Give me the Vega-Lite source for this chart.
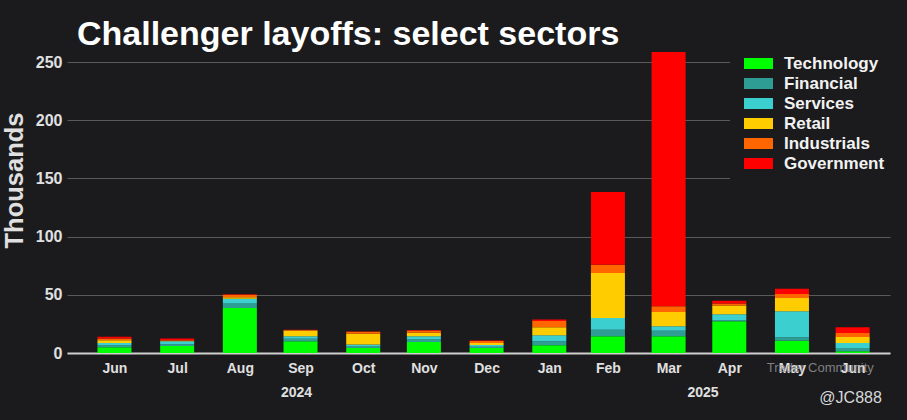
{
  "$schema": "https://vega.github.io/schema/vega-lite/v6.json",
  "autosize": {"type": "none"},
  "width": 823,
  "height": 346,
  "padding": {"left": 67, "top": 7, "right": 17, "bottom": 67},
  "background": "#1b1b1d",
  "title": {
    "text": "Challenger layoffs: select sectors",
    "anchor": "start",
    "frame": "group",
    "baseline": "alphabetic",
    "offset": -72,
    "dx": 10,
    "font": "Liberation Sans",
    "fontSize": 34,
    "fontWeight": "bold",
    "color": "#ffffff"
  },
  "config": {
    "view": {"stroke": null},
    "font": "Liberation Sans"
  },
  "datasets": {
    "layoffs": [
      {"month": "2024-06-15", "sector": "Technology", "rank": 1, "value": 5},
      {"month": "2024-06-15", "sector": "Financial", "rank": 2, "value": 1.5},
      {"month": "2024-06-15", "sector": "Services", "rank": 3, "value": 2},
      {"month": "2024-06-15", "sector": "Retail", "rank": 4, "value": 2.5},
      {"month": "2024-06-15", "sector": "Industrials", "rank": 5, "value": 1.5},
      {"month": "2024-06-15", "sector": "Government", "rank": 6, "value": 1.5},
      {"month": "2024-07-16", "sector": "Technology", "rank": 1, "value": 6},
      {"month": "2024-07-16", "sector": "Financial", "rank": 2, "value": 1.5},
      {"month": "2024-07-16", "sector": "Services", "rank": 3, "value": 2.5},
      {"month": "2024-07-16", "sector": "Retail", "rank": 4, "value": 0.5},
      {"month": "2024-07-16", "sector": "Industrials", "rank": 5, "value": 0.5},
      {"month": "2024-07-16", "sector": "Government", "rank": 6, "value": 1.5},
      {"month": "2024-08-16", "sector": "Technology", "rank": 1, "value": 38.7},
      {"month": "2024-08-16", "sector": "Financial", "rank": 2, "value": 4.3},
      {"month": "2024-08-16", "sector": "Services", "rank": 3, "value": 3.7},
      {"month": "2024-08-16", "sector": "Retail", "rank": 4, "value": 1.1},
      {"month": "2024-08-16", "sector": "Industrials", "rank": 5, "value": 2.3},
      {"month": "2024-08-16", "sector": "Government", "rank": 6, "value": 0.3},
      {"month": "2024-09-15", "sector": "Technology", "rank": 1, "value": 10},
      {"month": "2024-09-15", "sector": "Financial", "rank": 2, "value": 2.3},
      {"month": "2024-09-15", "sector": "Services", "rank": 3, "value": 2},
      {"month": "2024-09-15", "sector": "Retail", "rank": 4, "value": 4.9},
      {"month": "2024-09-15", "sector": "Industrials", "rank": 5, "value": 0.5},
      {"month": "2024-09-15", "sector": "Government", "rank": 6, "value": 0.3},
      {"month": "2024-10-16", "sector": "Technology", "rank": 1, "value": 4.3},
      {"month": "2024-10-16", "sector": "Financial", "rank": 2, "value": 1.8},
      {"month": "2024-10-16", "sector": "Services", "rank": 3, "value": 1.3},
      {"month": "2024-10-16", "sector": "Retail", "rank": 4, "value": 9.2},
      {"month": "2024-10-16", "sector": "Industrials", "rank": 5, "value": 1.7},
      {"month": "2024-10-16", "sector": "Government", "rank": 6, "value": 0.2},
      {"month": "2024-11-15", "sector": "Technology", "rank": 1, "value": 9.5},
      {"month": "2024-11-15", "sector": "Financial", "rank": 2, "value": 2},
      {"month": "2024-11-15", "sector": "Services", "rank": 3, "value": 2.9},
      {"month": "2024-11-15", "sector": "Retail", "rank": 4, "value": 2.9},
      {"month": "2024-11-15", "sector": "Industrials", "rank": 5, "value": 2},
      {"month": "2024-11-15", "sector": "Government", "rank": 6, "value": 0.5},
      {"month": "2024-12-16", "sector": "Technology", "rank": 1, "value": 4.3},
      {"month": "2024-12-16", "sector": "Financial", "rank": 2, "value": 1},
      {"month": "2024-12-16", "sector": "Services", "rank": 3, "value": 1.5},
      {"month": "2024-12-16", "sector": "Retail", "rank": 4, "value": 1.8},
      {"month": "2024-12-16", "sector": "Industrials", "rank": 5, "value": 1.8},
      {"month": "2024-12-16", "sector": "Government", "rank": 6, "value": 0.4},
      {"month": "2025-01-16", "sector": "Technology", "rank": 1, "value": 6.6},
      {"month": "2025-01-16", "sector": "Financial", "rank": 2, "value": 3.4},
      {"month": "2025-01-16", "sector": "Services", "rank": 3, "value": 5.2},
      {"month": "2025-01-16", "sector": "Retail", "rank": 4, "value": 6.9},
      {"month": "2025-01-16", "sector": "Industrials", "rank": 5, "value": 5.5},
      {"month": "2025-01-16", "sector": "Government", "rank": 6, "value": 1.2},
      {"month": "2025-02-14", "sector": "Technology", "rank": 1, "value": 14.3},
      {"month": "2025-02-14", "sector": "Financial", "rank": 2, "value": 5.7},
      {"month": "2025-02-14", "sector": "Services", "rank": 3, "value": 10},
      {"month": "2025-02-14", "sector": "Retail", "rank": 4, "value": 38.7},
      {"month": "2025-02-14", "sector": "Industrials", "rank": 5, "value": 7.2},
      {"month": "2025-02-14", "sector": "Government", "rank": 6, "value": 62.4},
      {"month": "2025-03-16", "sector": "Technology", "rank": 1, "value": 14.3},
      {"month": "2025-03-16", "sector": "Financial", "rank": 2, "value": 4.9},
      {"month": "2025-03-16", "sector": "Services", "rank": 3, "value": 3.7},
      {"month": "2025-03-16", "sector": "Retail", "rank": 4, "value": 12.3},
      {"month": "2025-03-16", "sector": "Industrials", "rank": 5, "value": 4.9},
      {"month": "2025-03-16", "sector": "Government", "rank": 6, "value": 218.5},
      {"month": "2025-04-15", "sector": "Technology", "rank": 1, "value": 27.2},
      {"month": "2025-04-15", "sector": "Financial", "rank": 2, "value": 0.8},
      {"month": "2025-04-15", "sector": "Services", "rank": 3, "value": 5.2},
      {"month": "2025-04-15", "sector": "Retail", "rank": 4, "value": 7.7},
      {"month": "2025-04-15", "sector": "Industrials", "rank": 5, "value": 1.6},
      {"month": "2025-04-15", "sector": "Government", "rank": 6, "value": 2.3},
      {"month": "2025-05-16", "sector": "Technology", "rank": 1, "value": 10.6},
      {"month": "2025-05-16", "sector": "Financial", "rank": 2, "value": 2.9},
      {"month": "2025-05-16", "sector": "Services", "rank": 3, "value": 22.3},
      {"month": "2025-05-16", "sector": "Retail", "rank": 4, "value": 11.5},
      {"month": "2025-05-16", "sector": "Industrials", "rank": 5, "value": 3.4},
      {"month": "2025-05-16", "sector": "Government", "rank": 6, "value": 4.6},
      {"month": "2025-06-15", "sector": "Technology", "rank": 1, "value": 1.4},
      {"month": "2025-06-15", "sector": "Financial", "rank": 2, "value": 2.9},
      {"month": "2025-06-15", "sector": "Services", "rank": 3, "value": 4.3},
      {"month": "2025-06-15", "sector": "Retail", "rank": 4, "value": 5.2},
      {"month": "2025-06-15", "sector": "Industrials", "rank": 5, "value": 3.4},
      {"month": "2025-06-15", "sector": "Government", "rank": 6, "value": 4.9}
    ],
    "years": [
      {"month": "2024-09-13", "label": "2024"},
      {"month": "2025-04-02", "label": "2025"}
    ],
    "notes": [
      {"month": "2025-06-14", "label": "@JC888"}
    ],
    "marks": [
      {"month": "2025-05-30", "label": "Trader Community"}
    ]
  },
  "layer": [
    {
      "data": {"name": "layoffs"},
      "mark": {"type": "bar", "width": 34},
      "encoding": {
        "x": {
          "field": "month",
          "type": "temporal",
          "scale": {"domain": ["2024-05-25", "2025-07-01"]},
          "axis": {
            "title": null,
            "values": [
              {"year": 2024, "month": 6, "date": 15},
              {"year": 2024, "month": 7, "date": 16},
              {"year": 2024, "month": 8, "date": 16},
              {"year": 2024, "month": 9, "date": 15},
              {"year": 2024, "month": 10, "date": 16},
              {"year": 2024, "month": 11, "date": 15},
              {"year": 2024, "month": 12, "date": 16},
              {"year": 2025, "month": 1, "date": 16},
              {"year": 2025, "month": 2, "date": 14},
              {"year": 2025, "month": 3, "date": 16},
              {"year": 2025, "month": 4, "date": 15},
              {"year": 2025, "month": 5, "date": 16},
              {"year": 2025, "month": 6, "date": 15}
            ],
            "format": "%b",
            "labelFlush": false,
            "labelOverlap": false,
            "grid": false,
            "ticks": false,
            "domain": true,
            "domainColor": "#d0d0d0",
            "domainWidth": 2,
            "labelColor": "#e0e0e0",
            "labelFont": "Liberation Sans",
            "labelFontSize": 14,
            "labelFontWeight": "bold",
            "labelPadding": 8
          }
        },
        "y": {
          "field": "value",
          "type": "quantitative",
          "stack": "zero",
          "scale": {"domain": [0, 297.3], "nice": false},
          "axis": {
            "title": "Thousands",
            "titleColor": "#e0e0e0",
            "titleFont": "Liberation Sans",
            "titleFontSize": 25.5,
            "titleFontWeight": "bold",
            "titlePadding": 8,
            "values": [0, 50, 100, 150, 200, 250],
            "grid": true,
            "gridColor": "#5a5a5a",
            "gridWidth": 1,
            "ticks": false,
            "domain": false,
            "labelColor": "#e0e0e0",
            "labelFont": "Liberation Sans",
            "labelFontSize": 16,
            "labelFontWeight": "bold",
            "labelPadding": 5
          }
        },
        "color": {
          "field": "sector",
          "type": "nominal",
          "scale": {
            "domain": ["Technology", "Financial", "Services", "Retail", "Industrials", "Government"],
            "range": ["#00ff00", "#2e9d93", "#3ccfcf", "#ffcc00", "#ff6600", "#ff0000"]
          },
          "legend": {
            "title": null,
            "orient": "none",
            "legendX": 663,
            "legendY": 28,
            "padding": 20,
            "fillColor": "#1b1b1d",
            "symbolType": "M-2,-0.76H2V0.76H-2Z",
            "symbolSize": 210,
            "symbolStrokeWidth": 0,
            "symbolOpacity": 1,
            "labelColor": "#f2f2f2",
            "labelFont": "Liberation Sans",
            "labelFontSize": 17,
            "labelFontWeight": "bold",
            "labelOffset": 17,
            "rowPadding": 2
          }
        },
        "order": {"field": "rank", "type": "quantitative", "sort": "ascending"}
      }
    },
    {
      "data": {"name": "years"},
      "mark": {"type": "text", "dy": 40, "font": "Liberation Sans", "fontSize": 14, "fontWeight": "bold", "color": "#e0e0e0"},
      "encoding": {
        "x": {"field": "month", "type": "temporal"},
        "y": {"datum": 0, "type": "quantitative"},
        "text": {"field": "label"}
      }
    },
    {
      "data": {"name": "marks"},
      "mark": {"type": "text", "dy": 15, "font": "Liberation Sans", "fontSize": 13, "color": "#9a9a9a", "opacity": 0.8},
      "encoding": {
        "x": {"field": "month", "type": "temporal"},
        "y": {"datum": 0, "type": "quantitative"},
        "text": {"field": "label"}
      }
    },
    {
      "data": {"name": "notes"},
      "mark": {"type": "text", "dy": 45, "font": "Liberation Sans", "fontSize": 16, "color": "#d8d8d8"},
      "encoding": {
        "x": {"field": "month", "type": "temporal"},
        "y": {"datum": 0, "type": "quantitative"},
        "text": {"field": "label"}
      }
    }
  ]
}
